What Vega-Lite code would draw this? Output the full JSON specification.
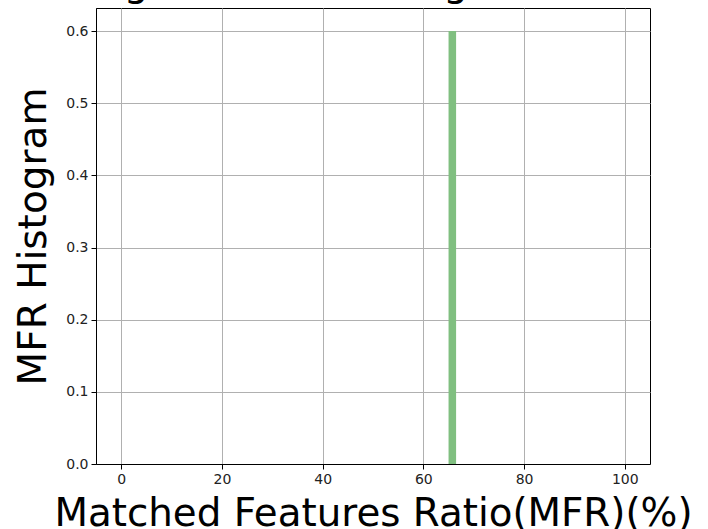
{
  "$schema": "https://vega.github.io/schema/vega-lite/v6.json",
  "autosize": "none",
  "width": 554,
  "height": 456,
  "padding": {"left": 96, "top": 8, "right": 58, "bottom": 65},
  "background": "white",
  "config": {
    "font": "DejaVu Sans",
    "view": {"stroke": "black", "strokeWidth": 1}
  },
  "title": {
    "text": "Histogram of Matching Results",
    "fontSize": 39,
    "font": "DejaVu Sans",
    "fontWeight": "normal",
    "color": "black",
    "anchor": "start",
    "frame": "group",
    "baseline": "alphabetic",
    "offset": 1,
    "dy": 28,
    "dx": -72
  },
  "data": {"values": [{"start": 65, "end": 66.5, "density": 0.6}]},
  "mark": {"type": "bar", "color": "#80bf80"},
  "encoding": {
    "x": {
      "field": "start",
      "type": "quantitative",
      "scale": {"domain": [-5, 105], "nice": false, "zero": false},
      "axis": {
        "title": "Matched Features Ratio(MFR)(%)",
        "values": [0, 20, 40, 60, 80, 100],
        "grid": true,
        "gridColor": "#b0b0b0",
        "gridWidth": 1,
        "domainColor": "black",
        "tickColor": "black",
        "tickSize": 5,
        "labelFontSize": 14,
        "labelColor": "#222",
        "labelPadding": 3,
        "titleFontSize": 38.8,
        "titleFontWeight": "normal",
        "titleColor": "black",
        "titleBaseline": "alphabetic",
        "titleY": 61
      }
    },
    "x2": {"field": "end"},
    "y": {
      "field": "density",
      "type": "quantitative",
      "scale": {"domain": [0, 0.632], "nice": false},
      "axis": {
        "title": "MFR Histogram",
        "values": [0, 0.1, 0.2, 0.3, 0.4, 0.5, 0.6],
        "format": ".1f",
        "grid": true,
        "gridColor": "#b0b0b0",
        "gridWidth": 1,
        "domainColor": "black",
        "tickColor": "black",
        "tickSize": 5,
        "labelFontSize": 14,
        "labelColor": "#222",
        "labelPadding": 3,
        "titleFontSize": 39,
        "titleFontWeight": "normal",
        "titleColor": "black",
        "titleBaseline": "alphabetic",
        "titleAngle": 270,
        "titleX": -51,
        "titleY": 228
      }
    },
    "y2": {"datum": 0}
  }
}
